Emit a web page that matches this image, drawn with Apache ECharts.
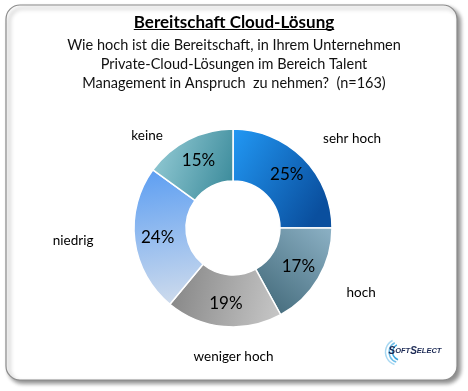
<!DOCTYPE html>
<html><head><meta charset="utf-8">
<script src="https://cdn.jsdelivr.net/npm/echarts@6/dist/echarts.min.js"></script>
<style>html,body{margin:0;padding:0;background:#fff}#c{width:468px;height:391px}</style>
</head><body><div id="c"></div>
<script>
const categories = ['sehr hoch', 'hoch', 'weniger hoch', 'niedrig', 'keine'];
const values = [25, 17, 19, 24, 15];
const titleText = 'Bereitschaft Cloud-Lösung';
const subtitleLines = [
  'Wie hoch ist die Bereitschaft, in Ihrem Unternehmen',
  'Private-Cloud-Lösungen im Bereich Talent',
  'Management in Anspruch  zu nehmen?  (n=163)'
];
// styling (not data)
const sliceGradients = [
  [0, 0, 1, 0.6, '#2299f5', '#0a4f9e'],
  [0, 1, 1, 0, '#3d6474', '#8db2c6'],
  [0, 0, 1, 0.4, '#838383', '#c4c4c4'],
  [0.4, 0, 0.7, 1, '#5e9ff2', '#d0dcec'],
  [0, 0.3, 1, 0.7, '#93cad4', '#3d8c9c']
];
const nameLabelOffsets = [[18, 12], [5, -8], [14, -14], [-18, -5], [-21, 35]];

const FONT = 'Lato, "Open Sans", sans-serif';
const chart = echarts.init(document.getElementById('c'), null, {renderer: 'canvas'});

function grad(g) {
  return {type: 'linear', x: g[0], y: g[1], x2: g[2], y2: g[3],
    colorStops: [{offset: 0, color: g[4]}, {offset: 1, color: g[5]}]};
}

const cv = document.createElement('canvas').getContext('2d');
cv.font = 'bold 17px ' + FONT;
const tw = cv.measureText(titleText).width;

const center = [233, 228];

chart.setOption({
  animation: false,
  title: [
    {text: titleText, left: 'center', top: 9,
      textStyle: {fontFamily: FONT, fontSize: 17, fontWeight: 'bold', color: '#000'}},
    {text: subtitleLines.join('\n'), left: 'center', top: 31,
      textStyle: {fontFamily: FONT, fontSize: 14.5, fontWeight: 'normal', color: '#111', lineHeight: 19}}
  ],
  graphic: [
    {type: 'rect', z: -10, shape: {x: 6, y: 5, width: 451, height: 375, r: 14},
      style: {fill: '#fff', stroke: '#8a8a8a', lineWidth: 1.2, shadowBlur: 4, shadowOffsetX: 3, shadowOffsetY: 3, shadowColor: 'rgba(0,0,0,0.45)'}},
    {type: 'line', z: 5, shape: {x1: 234 - tw / 2, y1: 29.5, x2: 234 + tw / 2, y2: 29.5},
      style: {stroke: '#000', lineWidth: 1.2}},
    {type: 'group', z: 5, left: 383, top: 338, children: [
      {type: 'arc', shape: {cx: 17, cy: 12, r: 13, startAngle: Math.PI * 0.6, endAngle: Math.PI * 1.35}, style: {stroke: '#a8d8f2', lineWidth: 1.5, fill: null}},
      {type: 'arc', shape: {cx: 18, cy: 12, r: 10.5, startAngle: Math.PI * 0.6, endAngle: Math.PI * 1.35}, style: {stroke: '#70bfe9', lineWidth: 1.5, fill: null}},
      {type: 'arc', shape: {cx: 19, cy: 12, r: 8, startAngle: Math.PI * 0.6, endAngle: Math.PI * 1.35}, style: {stroke: '#3aa4dd', lineWidth: 1.5, fill: null}},
      {type: 'text', x: 7, y: 6, style: {text: '{b|S}{s|OFT}{b|S}{s|ELECT}', rich: {
        b: {fontFamily: '"Liberation Sans", Arial', fontWeight: 'bold', fontSize: 10, fill: '#1c2a55', fontStyle: 'italic'},
        s: {fontFamily: '"Liberation Sans", Arial', fontWeight: 'bold', fontSize: 7.5, fill: '#1c2a55', fontStyle: 'italic'}
      }}}
    ]}
  ],
  series: [
    {
      type: 'pie', center: center, radius: [47, 99], startAngle: 90, clockwise: true,
      avoidLabelOverlap: false, silent: true, z: 2,
      itemStyle: {borderColor: '#fff', borderWidth: 1.5},
      label: {show: true, position: 'inside', formatter: '{c}%', fontFamily: FONT, fontSize: 17, color: '#000'},
      labelLine: {show: false},
      data: categories.map((c, i) => ({name: c, value: values[i], itemStyle: {color: grad(sliceGradients[i])}}))
    },
    {
      type: 'pie', center: center, radius: [99, 181], startAngle: 90, clockwise: true,
      avoidLabelOverlap: false, silent: true, z: 1,
      itemStyle: {color: 'rgba(0,0,0,0)'},
      label: {show: true, position: 'inside', formatter: '{b}', fontFamily: FONT, fontSize: 13.5, color: '#000'},
      labelLine: {show: false},
      data: categories.map((c, i) => ({name: c, value: values[i], label: {offset: nameLabelOffsets[i]}}))
    }
  ]
});
</script></body></html>
